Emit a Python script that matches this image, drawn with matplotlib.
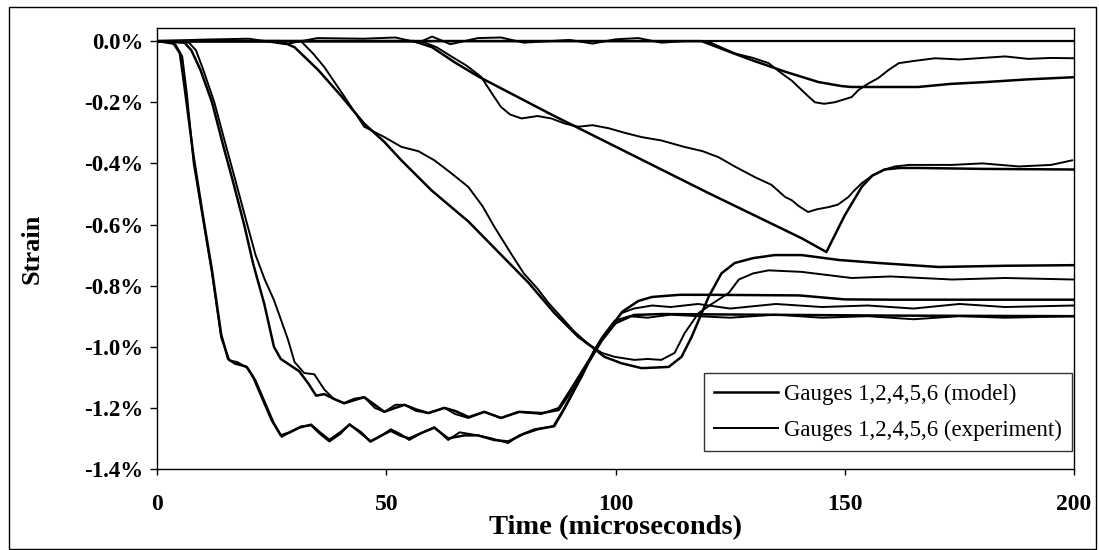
import matplotlib.pyplot as plt
from matplotlib.patches import Rectangle

# time in microseconds, strain in percent
g1_model_t = [0, 3.5, 5, 6, 8, 10, 12, 14, 15.5, 17, 19.5, 21, 23, 25, 27, 29, 31, 33.6, 35.5, 37.6,
              40, 42, 44.5, 46.5, 49, 51, 53, 55, 58, 60.5, 63.5, 67, 70, 73.5, 76.6, 80, 83, 86.5,
              88.5, 92.5, 95.5, 98.5, 101.5, 105, 108, 114, 120, 140, 150, 160, 200]
g1_model_s = [0, -0.005, -0.04, -0.15, -0.38, -0.57, -0.75, -0.96, -1.04, -1.055, -1.065, -1.1,
              -1.17, -1.24, -1.29, -1.28, -1.265, -1.255, -1.28, -1.305, -1.28, -1.255, -1.28, -1.31,
              -1.29, -1.275, -1.29, -1.30, -1.28, -1.265, -1.3, -1.29, -1.29, -1.305, -1.31, -1.285,
              -1.27, -1.26, -1.21, -1.10, -1.01, -0.945, -0.885, -0.85, -0.837, -0.83, -0.83, -0.832,
              -0.845, -0.846, -0.846]
g1_exp_t = [0, 4, 5.5, 6.5, 8, 10, 12, 14, 15.8, 17.5, 19.8, 21.5, 23.5, 25.5, 27.2, 29.5, 31.5, 33.6,
            35.5, 37.6, 40, 42, 44.5, 46.7, 49, 51, 53, 55, 58, 60.5, 63.5, 66, 70, 73, 76.6, 79, 82.3,
            86.7, 89, 92.6, 95.4, 98.5, 101.3, 104, 108, 112, 118, 125, 135, 145, 155, 165, 175, 185, 200]
g1_exp_s = [0, -0.01, -0.05, -0.17, -0.4, -0.58, -0.76, -0.97, -1.045, -1.05, -1.07, -1.11, -1.18,
            -1.25, -1.295, -1.275, -1.26, -1.257, -1.285, -1.31, -1.285, -1.253, -1.285, -1.31, -1.29,
            -1.27, -1.285, -1.305, -1.28, -1.263, -1.305, -1.28, -1.29, -1.3, -1.315, -1.29, -1.27,
            -1.26, -1.2, -1.098, -1.01, -0.945, -0.89, -0.875, -0.865, -0.87, -0.86, -0.875, -0.86,
            -0.87, -0.865, -0.875, -0.86, -0.87, -0.865]

g2_model_t = [0, 6, 7.5, 9.5, 12, 14.5, 16.5, 19, 21, 23.4, 25.5, 27, 29, 31, 33, 34.7, 36.5, 38.5,
              40.8, 43, 45.2, 47.5, 49.6, 52, 54, 56.5, 59.2, 62.7, 65, 68, 71.4, 75, 79, 84, 87.6,
              91, 94, 97, 100, 104, 110, 130, 160, 200]
g2_model_s = [0, -0.005, -0.03, -0.095, -0.2, -0.345, -0.455, -0.6, -0.73, -0.86, -1.0, -1.04,
              -1.06, -1.08, -1.12, -1.16, -1.155, -1.17, -1.185, -1.175, -1.165, -1.19, -1.213, -1.2,
              -1.19, -1.205, -1.217, -1.2, -1.21, -1.23, -1.213, -1.233, -1.213, -1.217, -1.207,
              -1.13, -1.054, -0.98, -0.923, -0.896, -0.893, -0.895, -0.898, -0.9]
g2_exp_t = [0, 7, 8.5, 10, 12.5, 15, 17, 19.5, 21.5, 23.5, 25.5, 27, 28.6, 30, 32.1, 34.3, 36.5, 38.5,
            40.8, 43, 45.2, 47.5, 49.6, 52, 54, 56.5, 59.2, 62.7, 65, 67.9, 71.4, 75.1, 78.8, 83.8,
            87.6, 91, 94.1, 97, 99.8, 103, 107, 112, 118, 125, 135, 145, 155, 165, 175, 185, 200]
g2_exp_s = [0, -0.005, -0.03, -0.09, -0.2, -0.34, -0.45, -0.59, -0.7, -0.78, -0.847, -0.91, -0.978,
            -1.05, -1.086, -1.09, -1.14, -1.17, -1.184, -1.17, -1.165, -1.2, -1.213, -1.19, -1.19,
            -1.21, -1.217, -1.2, -1.22, -1.233, -1.213, -1.233, -1.213, -1.22, -1.2, -1.12, -1.045,
            -0.97, -0.915, -0.9, -0.905, -0.895, -0.9, -0.905, -0.895, -0.905, -0.9, -0.91, -0.9,
            -0.905, -0.9]

g3_model_t = [0, 27, 30, 35.2, 40.2, 45.2, 49.6, 53.3, 60, 67.9, 75.1, 81, 86.7, 91.9, 94.8, 97.6,
              101.3, 105.7, 111.6, 114.4, 116.6, 118.8, 120.3, 123.1, 126, 130, 134.7, 140.6, 148.7,
              157.4, 170.5, 185, 200]
g3_model_s = [0, 0, -0.02, -0.095, -0.18, -0.27, -0.33, -0.39, -0.49, -0.59, -0.70, -0.79, -0.89,
              -0.968, -1.0, -1.033, -1.054, -1.07, -1.066, -1.033, -0.968, -0.89, -0.837, -0.76,
              -0.726, -0.71, -0.70, -0.70, -0.716, -0.726, -0.739, -0.735, -0.733]
g3_exp_t = [0, 31.4, 34, 36.5, 40.8, 45.2, 49.6, 53.3, 57, 60.5, 64, 67.9, 71, 73.6, 77, 80, 83,
            85.4, 88, 91, 94, 97, 99.8, 104.1, 107, 110, 112.9, 115.1, 118.1, 121, 124.7, 126.9,
            130, 133.4, 140.6, 151.5, 160, 173.4, 185, 200]
g3_exp_s = [0, 0, -0.04, -0.085, -0.18, -0.28, -0.314, -0.346, -0.36, -0.39, -0.43, -0.477, -0.54,
            -0.608, -0.69, -0.76, -0.81, -0.857, -0.9, -0.95, -0.99, -1.02, -1.033, -1.043, -1.04,
            -1.043, -1.02, -0.955, -0.89, -0.86, -0.824, -0.78, -0.76, -0.75, -0.755, -0.775, -0.77,
            -0.78, -0.775, -0.78]

g4_model_t = [0, 56, 60, 65, 70, 86, 100, 120, 140.6, 146, 150, 153.7, 156, 158.7, 162, 166.2, 180, 200]
g4_model_s = [0, 0, -0.02, -0.07, -0.115, -0.24, -0.345, -0.495, -0.645, -0.69, -0.57, -0.477,
              -0.44, -0.42, -0.415, -0.415, -0.418, -0.42]
g4_exp_t = [0, 57.6, 61, 64.2, 67.5, 70.7, 73, 75, 77, 79.5, 83, 86, 89, 91.9, 95, 98.5, 102, 105.7,
            110, 115, 119, 122.5, 126, 130.4, 134, 137, 138.4, 140, 142, 144, 146.5, 148.5, 150.8,
            152, 153.7, 156, 158.7, 161, 164, 170, 173.4, 180, 188, 195, 199.6]
g4_exp_s = [0, 0, -0.02, -0.05, -0.08, -0.117, -0.17, -0.215, -0.24, -0.253, -0.245, -0.253, -0.27,
            -0.28, -0.275, -0.285, -0.30, -0.314, -0.325, -0.346, -0.36, -0.38, -0.41, -0.445,
            -0.47, -0.51, -0.52, -0.54, -0.559, -0.55, -0.543, -0.535, -0.51, -0.49, -0.465, -0.44,
            -0.42, -0.41, -0.405, -0.405, -0.405, -0.40, -0.41, -0.405, -0.39]

g5_model_t = [0, 118.8, 124, 129.7, 137, 144.3, 149.3, 151.5, 160, 166, 173, 180.6, 190, 200]
g5_model_s = [0, 0, -0.03, -0.062, -0.1, -0.134, -0.147, -0.15, -0.15, -0.15, -0.14, -0.134,
              -0.125, -0.118]
g5_exp_t = [0, 10, 20, 28, 35, 45, 52, 57, 60, 64, 70, 75, 80, 90, 95, 100, 105, 110, 115, 120, 123,
            126, 130, 133.4, 136.2, 138.5, 140.6, 142, 143.5, 145.5, 147.8, 150, 151.5, 153, 155,
            157.4, 159.5, 161.8, 165, 169.7, 175, 180, 185, 190, 195, 200]
g5_exp_s = [0, 0.005, 0.008, -0.01, 0.01, 0.008, 0.012, -0.005, 0.015, -0.01, 0.01, 0.012, -0.005,
            0.004, -0.008, 0.006, 0.01, -0.005, 0, 0, -0.02, -0.04, -0.055, -0.072, -0.105, -0.13,
            -0.16, -0.18, -0.2, -0.205, -0.2, -0.19, -0.183, -0.16, -0.14, -0.12, -0.095, -0.072,
            -0.065, -0.056, -0.06, -0.055, -0.05, -0.058, -0.055, -0.056]

models = [(g1_model_t, g1_model_s), (g2_model_t, g2_model_s), (g3_model_t, g3_model_s),
          (g4_model_t, g4_model_s), (g5_model_t, g5_model_s)]
exps = [(g1_exp_t, g1_exp_s), (g2_exp_t, g2_exp_s), (g3_exp_t, g3_exp_s),
        (g4_exp_t, g4_exp_s), (g5_exp_t, g5_exp_s)]

plt.rcParams["font.family"] = ["Liberation Serif", "DejaVu Serif"]

fig = plt.figure(figsize=(10.99, 5.5), dpi=100)
ax = fig.add_axes([157 / 1099, 1 - 469 / 550, 917 / 1099, 441 / 550])

# chart border
fig.patches.append(Rectangle((9 / 1099, 1 / 550), 1087 / 1099, 542 / 550, transform=fig.transFigure,
                             fill=False, edgecolor="black", linewidth=1.0))

ax.axhline(0, color="black", linewidth=1.6, zorder=1)
for i, (t, s) in enumerate(models):
    ax.plot(t, s, color="black", linewidth=1.8, label="Gauges 1,2,4,5,6 (model)" if i == 0 else None)
for i, (t, s) in enumerate(exps):
    ax.plot(t, s, color="black", linewidth=1.4,
            label="Gauges 1,2,4,5,6 (experiment)" if i == 0 else None)

ax.set_xlim(0, 200)
ax.set_ylim(-1.4, 0.043)
ax.set_xticks([0, 50, 100, 150, 200])
ax.set_yticks([0, -0.2, -0.4, -0.6, -0.8, -1.0, -1.2, -1.4])
ax.set_yticklabels(["0.0%", "-0.2%", "-0.4%", "-0.6%", "-0.8%", "-1.0%", "-1.2%", "-1.4%"])
ax.tick_params(axis="y", length=5, width=1, pad=5, labelsize=16.5)
ax.tick_params(axis="x", length=4, width=1, pad=14, labelsize=17)
for lab in ax.get_xticklabels() + ax.get_yticklabels():
    lab.set_fontweight("bold")
for sp in ax.spines.values():
    sp.set_linewidth(1.0)

ax.set_xlabel("Time (microseconds)", fontsize=20.5, fontweight="bold", labelpad=0)
ax.set_ylabel("Strain", fontsize=19, fontweight="bold")
ax.yaxis.set_label_coords(-0.124, 0.5)

leg = ax.legend(loc="lower right", bbox_to_anchor=(0.998, 0.041), borderaxespad=0, fontsize=16.5,
                frameon=True, fancybox=False, edgecolor="black", handlelength=2.8,
                handletextpad=0.25, labelspacing=0.65, borderpad=0.45)
leg.get_frame().set_linewidth(1.0)

plt.savefig("out.png", dpi=100)
